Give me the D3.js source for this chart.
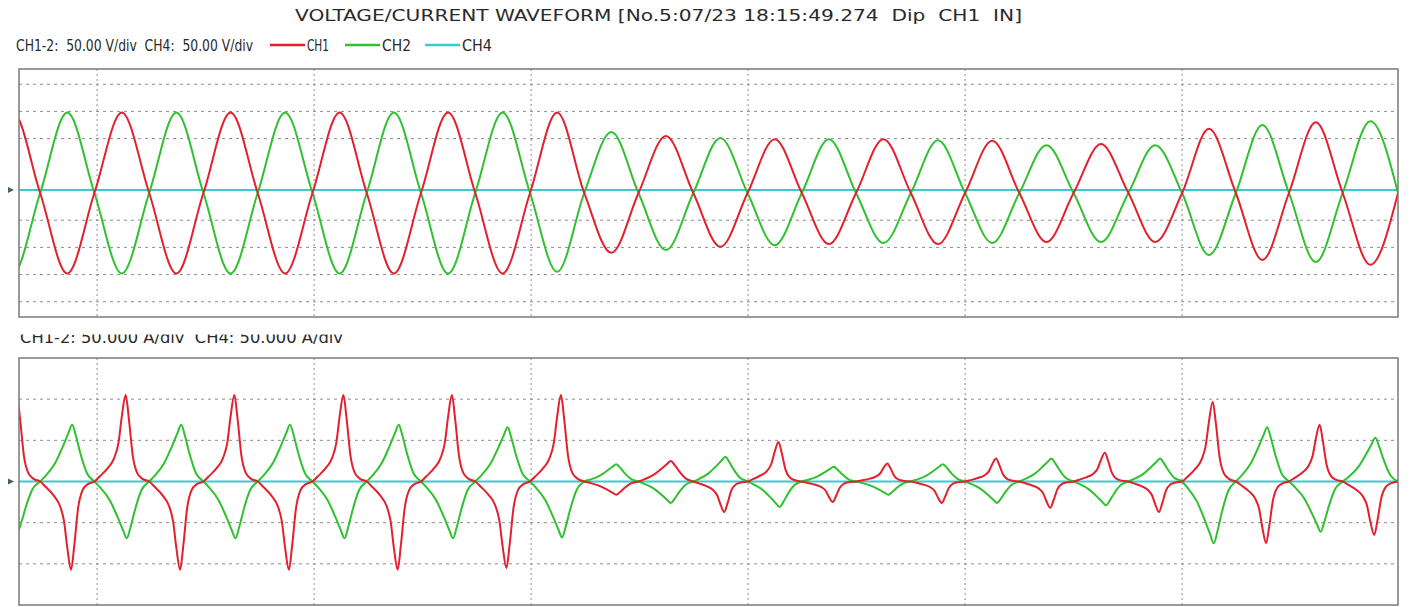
<!DOCTYPE html>
<html>
<head>
<meta charset="utf-8">
<script src="https://cdn.jsdelivr.net/npm/d3@7"></script>
<style>
    body { margin: 0; background: #fff; }
    text { font-family: "Liberation Sans Narrow", "DejaVu Sans Condensed", "Liberation Sans", sans-serif; fill: #2a2a2a; white-space: pre; }
</style>
</head>
<body>
<div id="scope"></div>
<script>
// zero crossings of the voltage, one per half cycle (ms, 0 = trigger grid line)
const crossings = [-100.5, -90.5, -80.5, -70.4, -60.4, -50.4, -40.3, -30.3, -20.3, -10.3,
    -0.2, 9.8, 19.8, 29.9, 39.9, 49.9, 59.9, 70.0, 80.0, 90.0,
    100.0, 110.1, 120.0, 129.9, 139.7, 149.6, 159.8];

// peak of every half cycle (V)
const ch1VPeaks = [148, -148, 148, -148, 148, -148, 148, -148, 148, -148,
    148, -110, 105, -99, 99, -94, 99, -94, 96, -90,
    90, -90, 118, -123, 130, -132];
const ch2VPeaks = [-148, 148, -148, 148, -148, 148, -148, 148, -148, 148,
    -145, 112, -105, 101, -96, 99, -92, 97, -92, 88,
    -90, 88, -114, 125, -127, 132];
const ch4V = 5.5;

// peak of every half cycle (A)
const ch1IPeaks = [105, -107, 105, -107, 105, -107, 105, -107, 105, -105,
    105, -16, 25, -37, 48, -25, 22, -26, 28, -32,
    35, -37, 97, -75, 69, -65];
const ch2IPeaks = [-60, 69, -69, 69, -69, 69, -69, 69, -69, 66,
    -68, 21, -26, 30, -31, 18, -16, 21, -26, 28,
    -29, 28, -75, 66, -61, 53];
const ch1IShape = ['spike', 'spike', 'spike', 'spike', 'spike', 'spike', 'spike', 'spike', 'spike', 'spike',
    'spike', 'tri', 'tri', 'spike', 'spike', 'spike', 'spike', 'spike', 'spike', 'spike',
    'spike', 'spike', 'spike', 'spike', 'spike', 'spike'];
const ch4I = 0;

const sineShape = [[0, 0], [0.5, 1], [1, 0]];
const spikeShape = [[0, 0], [0.1, 0.06], [0.25, 0.16], [0.36, 0.27], [0.44, 0.45], [0.5, 0.75],
    [0.57, 1], [0.63, 0.72], [0.7, 0.3], [0.78, 0.1], [0.88, 0.03], [1, 0]];
const triShape = [[0, 0], [0.1, 0.1], [0.28, 0.33], [0.42, 0.62], [0.52, 0.85], [0.59, 1],
    [0.66, 0.8], [0.74, 0.5], [0.86, 0.15], [1, 0]];

const timeGrid = [-80, -40, 0, 40, 80, 120];
const voltGrid = [200, 150, 100, -50, -100, -150, -200];
const ampGrid = [100, 50, -50, -100];

const titleText = "VOLTAGE/CURRENT WAVEFORM [No.5:07/23 18:15:49.274  Dip  CH1  IN]";
const voltLabel = "CH1-2:  50.00 V/div  CH4:  50.00 V/div";
const ampLabel = "CH1-2: 50.000 A/div  CH4: 50.000 A/div";
const legendNames = ["CH1", "CH2", "CH4"];

class ScopeChart {
    constructor(parentElement) {
        this.parentElement = parentElement;
        this.initVis();
    }

    initVis() {
        let vis = this;
        vis.width = 1412;
        vis.height = 607;
        vis.colors = { CH1: '#e2202e', CH2: '#2fc12f', CH4: '#3ccaca' };

        vis.svg = d3.select("#" + vis.parentElement)
            .append("svg")
            .attr("width", vis.width)
            .attr("height", vis.height);

        vis.x = d3.scaleLinear().domain([-94.4, 159.8]).range([19, 1398]);
        vis.yV = d3.scaleLinear().domain([-228, 228]).range([317, 69]);
        vis.yI = d3.scaleLinear().domain([-150, 150]).range([605, 358]);

        vis.wrangleData();
        vis.drawTexts();
        vis.drawPanel('v', vis.yV, voltGrid, [
            { name: 'CH4', pts: [{ t: -94.4, v: ch4V }, { t: 159.8, v: ch4V }] },
            { name: 'CH2', pts: vis.ch2V },
            { name: 'CH1', pts: vis.ch1V }
        ]);
        vis.drawPanel('i', vis.yI, ampGrid, [
            { name: 'CH4', pts: [{ t: -94.4, v: ch4I }, { t: 159.8, v: ch4I }] },
            { name: 'CH2', pts: vis.ch2I },
            { name: 'CH1', pts: vis.ch1I }
        ]);
    }

    // half cycle peaks + pulse shape -> points between the crossings
    buildSeries(peaks, shapes) {
        let pts = [];
        peaks.forEach((p, i) => {
            let t0 = crossings[i], t1 = crossings[i + 1];
            shapes[i].forEach((s, j) => {
                if (i > 0 && j === 0) return;
                pts.push({ t: t0 + s[0] * (t1 - t0), v: s[1] * p });
            });
        });
        return pts;
    }

    wrangleData() {
        let vis = this;
        vis.ch1V = vis.buildSeries(ch1VPeaks, ch1VPeaks.map(() => sineShape));
        vis.ch2V = vis.buildSeries(ch2VPeaks, ch2VPeaks.map(() => sineShape));
        vis.ch1I = vis.buildSeries(ch1IPeaks, ch1IShape.map(s => s === 'tri' ? triShape : spikeShape));
        vis.ch2I = vis.buildSeries(ch2IPeaks, ch2IPeaks.map(() => triShape));
    }

    drawTexts() {
        let vis = this;

        vis.svg.append('text')
            .attr('x', 295).attr('y', 21)
            .attr('font-size', 16)
            .attr('textLength', 727).attr('lengthAdjust', 'spacingAndGlyphs')
            .text(titleText);

        vis.svg.append('text')
            .attr('x', 16).attr('y', 51)
            .attr('font-size', 16)
            .attr('textLength', 237).attr('lengthAdjust', 'spacingAndGlyphs')
            .text(voltLabel);

        // legend
        let legendX = [270, 345, 425];
        let labelW = [22, 29, 30];
        let legend = vis.svg.append('g').attr('class', 'legend');
        legendNames.forEach((n, i) => {
            legend.append('line')
                .attr('x1', legendX[i]).attr('x2', legendX[i] + 35)
                .attr('y1', 45).attr('y2', 45)
                .attr('stroke', vis.colors[n])
                .attr('stroke-width', 2.5);
            legend.append('text')
                .attr('x', legendX[i] + 37).attr('y', 51)
                .attr('font-size', 16)
                .attr('textLength', labelW[i]).attr('lengthAdjust', 'spacingAndGlyphs')
                .text(n);
        });

        // the current label is cut off at the top in the original
        vis.svg.append('clipPath').attr('id', 'label-clip')
            .append('rect').attr('x', 0).attr('y', 334.5).attr('width', 500).attr('height', 20);
        vis.svg.append('g')
            .attr('clip-path', 'url(#label-clip)')
            .append('text')
            .attr('x', 20).attr('y', 343)
            .attr('font-size', 16)
            .attr('textLength', 323).attr('lengthAdjust', 'spacingAndGlyphs')
            .text(ampLabel);
    }

    drawPanel(id, y, yGrid, series) {
        let vis = this;
        let [x0, x1] = vis.x.range();
        let [y1, y0] = y.range();

        let g = vis.svg.append('g').attr('class', 'panel-' + id);

        g.append('clipPath').attr('id', 'clip-' + id)
            .append('rect')
            .attr('x', x0).attr('y', y0)
            .attr('width', x1 - x0).attr('height', y1 - y0);

        g.selectAll('.hgrid')
            .data(yGrid)
            .enter().append('line')
            .attr('class', 'hgrid')
            .attr('x1', x0).attr('x2', x1)
            .attr('y1', d => y(d)).attr('y2', d => y(d))
            .attr('stroke', '#8c8c8c')
            .attr('stroke-width', 1)
            .attr('stroke-dasharray', '3,4');

        g.selectAll('.vgrid')
            .data(timeGrid)
            .enter().append('line')
            .attr('class', 'vgrid')
            .attr('x1', d => vis.x(d)).attr('x2', d => vis.x(d))
            .attr('y1', y0).attr('y2', y1)
            .attr('stroke', '#8c8c8c')
            .attr('stroke-width', 1)
            .attr('stroke-dasharray', '2,3');

        let line = d3.line()
            .x(d => vis.x(d.t))
            .y(d => y(d.v))
            .curve(d3.curveMonotoneX);

        g.append('g')
            .attr('clip-path', 'url(#clip-' + id + ')')
            .selectAll('.trace')
            .data(series)
            .enter().append('path')
            .attr('class', 'trace')
            .attr('fill', 'none')
            .attr('stroke', d => vis.colors[d.name])
            .attr('stroke-width', 2)
            .attr('stroke-linejoin', 'round')
            .attr('d', d => line(d.pts));

        // frame
        g.append('rect')
            .attr('x', x0).attr('y', y0)
            .attr('width', x1 - x0).attr('height', y1 - y0)
            .attr('fill', 'none')
            .attr('stroke', '#7a7a7a')
            .attr('stroke-width', 1.5);

        // zero marker of CH4 on the left
        let zeroY = y(series[0].pts[0].v);
        g.append('path')
            .attr('d', `M8,${zeroY - 3}L14,${zeroY}L8,${zeroY + 3}Z`)
            .attr('fill', '#44606a');
    }
}

new ScopeChart('scope');
</script>
</body>
</html>
